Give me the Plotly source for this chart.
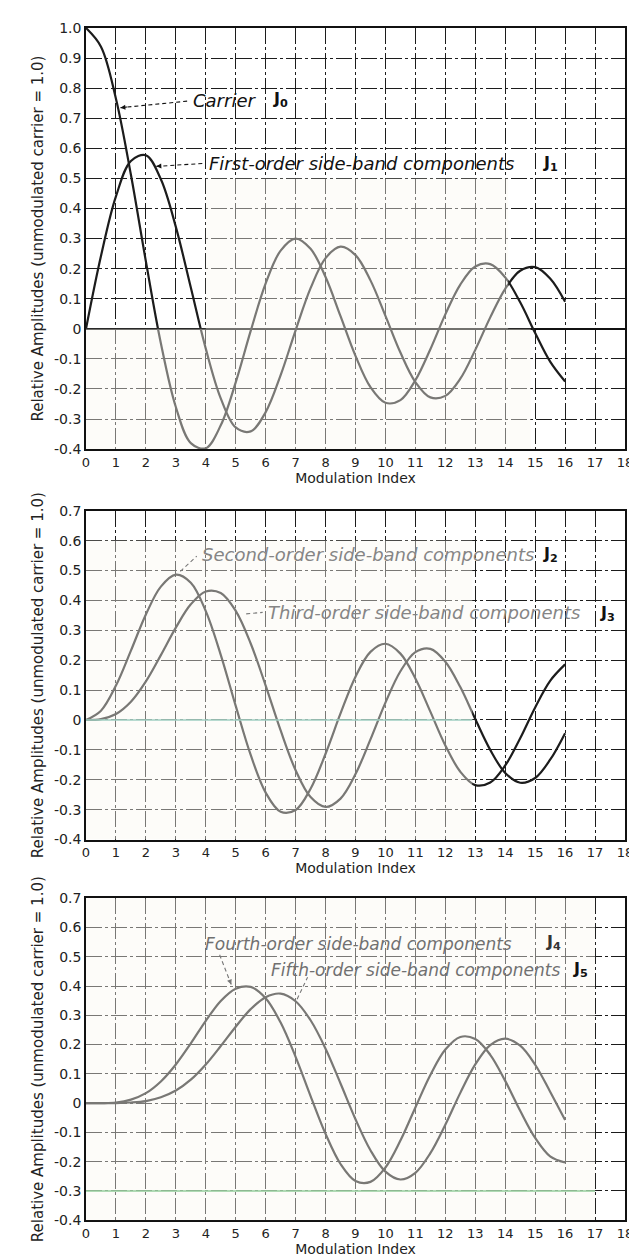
import plotly.graph_objects as go

# ---------------- data ----------------
mod_index = [0.0, 0.5, 1.0, 1.5, 2.0, 2.5, 3.0, 3.5, 4.0, 4.5, 5.0, 5.5, 6.0, 6.5,
             7.0, 7.5, 8.0, 8.5, 9.0, 9.5, 10.0, 10.5, 11.0, 11.5, 12.0, 12.5,
             13.0, 13.5, 14.0, 14.5, 15.0, 15.5, 16.0]

carrier_j0 = [1.000, 0.938, 0.765, 0.512, 0.224, -0.048, -0.260, -0.380, -0.397,
              -0.321, -0.178, -0.007, 0.151, 0.260, 0.300, 0.266, 0.172, 0.042,
              -0.090, -0.194, -0.246, -0.237, -0.171, -0.068, 0.048, 0.147, 0.207,
              0.215, 0.171, 0.088, -0.014, -0.109, -0.175]
first_j1 = [0.000, 0.242, 0.440, 0.558, 0.577, 0.497, 0.339, 0.137, -0.066, -0.231,
            -0.328, -0.341, -0.277, -0.154, -0.005, 0.135, 0.235, 0.273, 0.245,
            0.161, 0.043, -0.079, -0.177, -0.228, -0.223, -0.166, -0.070, 0.038,
            0.133, 0.193, 0.205, 0.167, 0.090]
second_j2 = [0.000, 0.031, 0.115, 0.232, 0.353, 0.446, 0.486, 0.459, 0.364, 0.218,
             0.047, -0.117, -0.243, -0.307, -0.301, -0.230, -0.113, 0.022, 0.145,
             0.228, 0.255, 0.222, 0.139, 0.028, -0.085, -0.173, -0.218, -0.209,
             -0.152, -0.061, 0.042, 0.131, 0.186]
third_j3 = [0.000, 0.003, 0.020, 0.061, 0.129, 0.217, 0.309, 0.387, 0.430, 0.425,
            0.365, 0.256, 0.115, -0.035, -0.168, -0.258, -0.291, -0.263, -0.181,
            -0.065, 0.058, 0.163, 0.227, 0.238, 0.195, 0.110, 0.003, -0.100,
            -0.177, -0.210, -0.194, -0.133, -0.044]
fourth_j4 = [0.000, 0.000, 0.002, 0.012, 0.034, 0.074, 0.132, 0.204, 0.281, 0.349,
             0.391, 0.397, 0.358, 0.275, 0.158, 0.024, -0.105, -0.208, -0.266,
             -0.269, -0.220, -0.128, -0.015, 0.096, 0.183, 0.226, 0.219, 0.165,
             0.076, -0.026, -0.119, -0.182, -0.203]
fifth_j5 = [0.000, 0.000, 0.000, 0.002, 0.007, 0.020, 0.043, 0.080, 0.132, 0.195,
            0.261, 0.321, 0.362, 0.374, 0.348, 0.283, 0.186, 0.067, -0.055, -0.161,
            -0.234, -0.261, -0.238, -0.171, -0.074, 0.035, 0.132, 0.198, 0.220,
            0.196, 0.131, 0.039, -0.058]

x_tickvals = [0, 1, 2, 3, 4, 5, 6, 7, 8, 9, 10, 11, 12, 13, 14, 15, 16, 17, 18]
x_ticktext = ["0", "1", "2", "3", "4", "5", "6", "7", "8", "9", "10", "11", "12",
              "13", "14", "15", "16", "17", "18"]
y1_tickvals = [1.0, 0.9, 0.8, 0.7, 0.6, 0.5, 0.4, 0.3, 0.2, 0.1, 0.0,
               -0.1, -0.2, -0.3, -0.4]
y1_ticktext = ["1.0", "0.9", "0.8", "0.7", "0.6", "0.5", "0.4", "0.3", "0.2",
               "0.1", "0", "-0.1", "-0.2", "-0.3", "-0.4"]
y23_tickvals = [0.7, 0.6, 0.5, 0.4, 0.3, 0.2, 0.1, 0.0, -0.1, -0.2, -0.3, -0.4]
y23_ticktext = ["0.7", "0.6", "0.5", "0.4", "0.3", "0.2", "0.1", "0",
                "-0.1", "-0.2", "-0.3", "-0.4"]

# ---------------- figure ----------------
FONT = "DejaVu Sans"
INK = "#1c1c1c"
GRID_DASH = "16px,3px,3px,3px"

fig = go.Figure()
series = [(carrier_j0, "x", "y"), (first_j1, "x", "y"),
          (second_j2, "x2", "y2"), (third_j3, "x2", "y2"),
          (fourth_j4, "x3", "y3"), (fifth_j5, "x3", "y3")]
for ys, xa, ya in series:
    fig.add_trace(go.Scatter(x=mod_index, y=ys, xaxis=xa, yaxis=ya, mode="lines",
                             line=dict(color=INK, width=2.2, shape="spline"),
                             showlegend=False, hoverinfo="skip"))

ytitle = "Relative Amplitudes (unmodulated carrier = 1.0)"


def xaxis(anchor):
    return dict(domain=[0, 1], range=[0, 18], anchor=anchor, tickvals=x_tickvals,
                ticktext=x_ticktext, showgrid=True, gridcolor=INK, gridwidth=1,
                griddash=GRID_DASH, showline=True, mirror=True, linecolor="#111",
                linewidth=1.6, zeroline=False, ticks="",
                tickfont=dict(family=FONT, size=13, color="#222"),
                title=dict(text="Modulation Index", standoff=4,
                           font=dict(family=FONT, size=14, color="#222")))


def yaxis(anchor, dom, rng, tv, tt, zl):
    return dict(domain=dom, range=rng, anchor=anchor, tickvals=tv, ticktext=tt,
                showgrid=True, gridcolor=INK, gridwidth=1, griddash=GRID_DASH,
                showline=True, mirror=True, linecolor="#111", linewidth=1.6,
                zeroline=zl, zerolinecolor="#111", zerolinewidth=1.6, ticks="",
                tickfont=dict(family=FONT, size=14, color="#222"),
                title=dict(text=ytitle, standoff=7,
                           font=dict(family=FONT, size=15, color="#222")))


fig.update_layout(
    width=637, height=1258,
    margin=dict(l=78, r=14, t=16, b=40),
    paper_bgcolor="white", plot_bgcolor="white",
    xaxis=xaxis("y"), xaxis2=xaxis("y2"), xaxis3=xaxis("y3"),
    yaxis=yaxis("x", [0.6473, 1.0], [-0.4, 1.0], y1_tickvals, y1_ticktext, True),
    yaxis2=yaxis("x2", [0.3203, 0.5957], [-0.4, 0.7], y23_tickvals, y23_ticktext, False),
    yaxis3=yaxis("x3", [0.0015, 0.2712], [-0.4, 0.7], y23_tickvals, y23_ticktext, False),
)

# faded (light) regions of the scanned sheet
LIGHT = "rgba(250,249,240,0.42)"
light_regions = [("x", "y", 4.0, 14.1, -0.4, 0.5), ("x", "y", 0.0, 4.0, -0.4, 0.0),
                 ("x", "y", 14.1, 14.85, -0.4, 0.0),
                 ("x2", "y2", 0.0, 12.9, -0.4, 0.6),
                 ("x3", "y3", 0.0, 17.0, -0.4, 0.7)]
shapes = []
for xr, yr, x0, x1, y0, y1 in light_regions:
    shapes.append(dict(type="rect", xref=xr, yref=yr, x0=x0, x1=x1, y0=y0, y1=y1,
                       fillcolor=LIGHT, line=dict(width=0), layer="above"))
# tinted rule lines of the scan
shapes.append(dict(type="line", xref="x2", yref="y2", x0=0, x1=12.9, y0=0, y1=0,
                   line=dict(color="#9fcfc2", width=1.4), layer="above"))
shapes.append(dict(type="line", xref="x3", yref="y3", x0=0, x1=17.0, y0=-0.3, y1=-0.3,
                   line=dict(color="#94cf9c", width=1.6), layer="above"))

# leaders: (xref, yref, head_x, head_y, tail_x, tail_y, colour)
leaders = [("x", "y", 1.15, 0.735, 3.4, 0.757, "#111"),
           ("x", "y", 2.35, 0.540, 3.95, 0.550, "#111"),
           ("x2", "y2", 3.15, 0.497, 3.7, 0.548, "#777"),
           ("x2", "y2", 5.35, 0.355, 5.9, 0.360, "#777"),
           ("x3", "y3", 4.85, 0.405, 4.45, 0.51, "#777"),
           ("x3", "y3", 7.05, 0.355, 7.4, 0.43, "#777")]
annotations = []
for xr, yr, hx, hy, tx, ty, col in leaders:
    shapes.append(dict(type="line", xref=xr, yref=yr, x0=hx, y0=hy, x1=tx, y1=ty,
                       line=dict(color=col, width=1.1, dash="4px,3px"), layer="above"))
    annotations.append(dict(xref=xr, yref=yr, x=hx, y=hy, ax=hx + (tx - hx) * 0.12,
                            ay=hy + (ty - hy) * 0.12, axref=xr, ayref=yr, text="",
                            showarrow=True, arrowhead=2, arrowsize=0.9,
                            arrowwidth=1.1, arrowcolor=col))

# labels: (xref, yref, x, y, text, colour, xanchor, size, bold)
labels = [("x", "y", 3.5, 0.758, "Carrier", "#111", "left", 18, False),
          ("x", "y", 6.5, 0.762, "J<sub>0</sub>", "#111", "center", 16, True),
          ("x", "y", 4.05, 0.550, "First-order side-band components", "#111", "left", 18, False),
          ("x", "y", 15.5, 0.550, "J<sub>1</sub>", "#111", "center", 16, True),
          ("x2", "y2", 3.8, 0.555, "Second-order side-band components", "#858585", "left", 18, False),
          ("x2", "y2", 15.5, 0.555, "J<sub>2</sub>", "#111", "center", 16, True),
          ("x2", "y2", 6.0, 0.360, "Third-order side-band components", "#858585", "left", 18, False),
          ("x2", "y2", 17.4, 0.355, "J<sub>3</sub>", "#111", "center", 16, True),
          ("x3", "y3", 3.9, 0.545, "Fourth-order side-band components", "#707070", "left", 17, False),
          ("x3", "y3", 15.6, 0.548, "J<sub>4</sub>", "#333", "center", 16, True),
          ("x3", "y3", 6.1, 0.455, "Fifth-order side-band components", "#707070", "left", 17, False),
          ("x3", "y3", 16.5, 0.455, "J<sub>5</sub>", "#111", "center", 16, True)]
for xr, yr, x, y, txt, col, xa, sz, bold in labels:
    annotations.append(dict(xref=xr, yref=yr, x=x, y=y, text=txt, showarrow=False,
                            xanchor=xa, yanchor="middle",
                            font=dict(family=FONT, size=sz, color=col,
                                      style="normal" if bold else "italic",
                                      weight="bold" if bold else "normal")))

fig.update_layout(shapes=shapes, annotations=annotations)
fig.write_html("out.html")
